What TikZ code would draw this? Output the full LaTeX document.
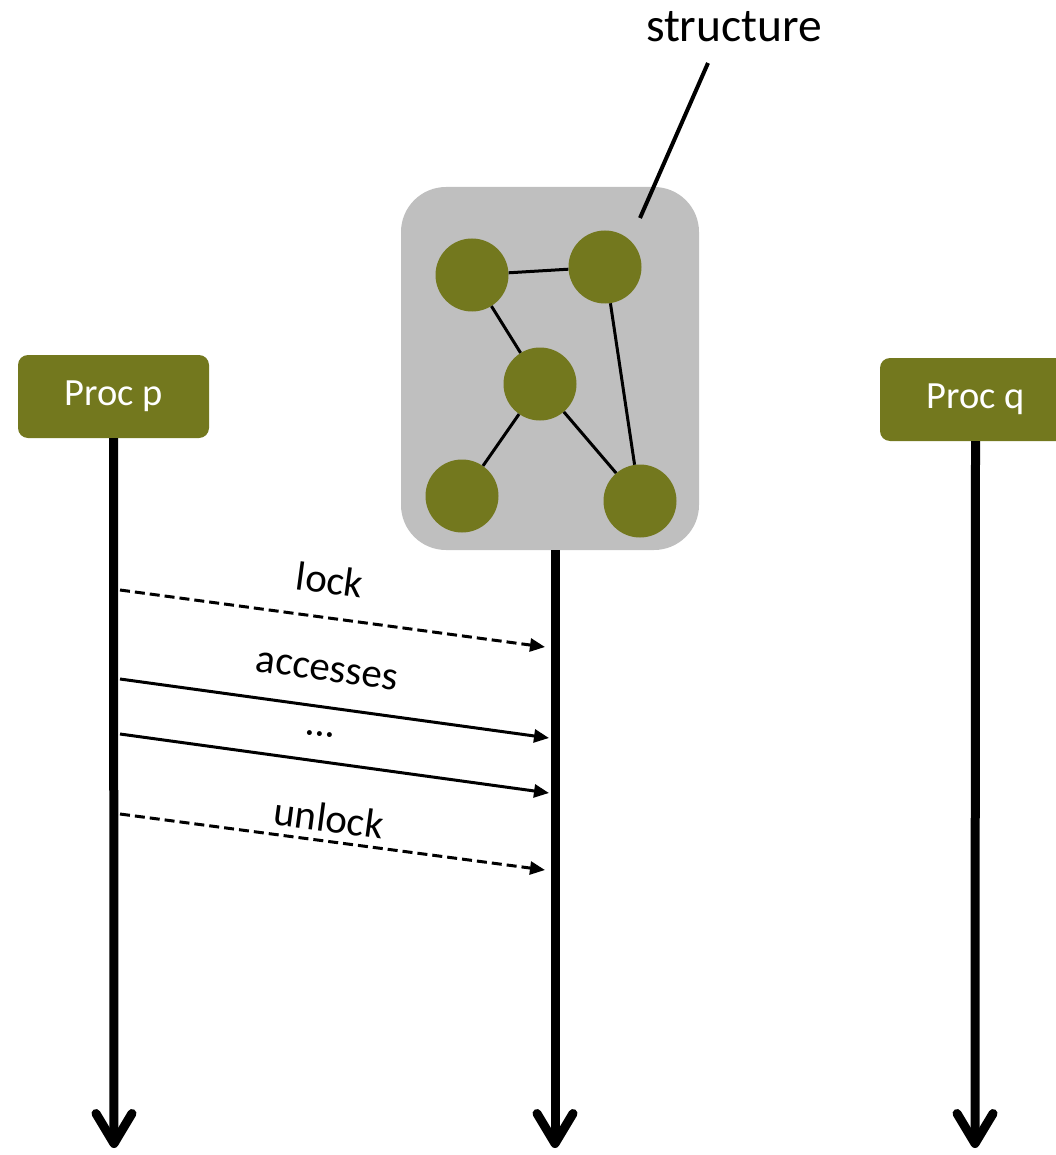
\documentclass[tikz,border=0pt]{standalone}
\usepackage{fontspec}
\setmainfont{Carlito}
\usetikzlibrary{arrows.meta}
\definecolor{olive}{RGB}{115,120,30}
\definecolor{structgray}{RGB}{191,191,191}
\tikzset{
  procbox/.style={fill=olive, rounded corners=10pt, minimum width=191pt, minimum height=83pt, text=white, font=\fontsize{38.5}{42}\selectfont, inner sep=0pt},
  blob/.style={circle, fill=olive, minimum size=73pt, inner sep=0pt},
  edge/.style={line width=3pt, black},
  lifeline/.style={line width=9pt, -{Straight Barb[length=30pt,width=36pt,line cap=round,line join=round]}},
  msg/.style={line width=3pt, -{Triangle[length=15pt,width=13pt]}},
  dmsg/.style={msg, dash pattern=on 10pt off 5pt},
  lbl/.style={font=\fontsize{41}{46}\selectfont, rotate=-7.7, inner sep=0pt},
}
\begin{document}
\begin{tikzpicture}[x=1pt,y=-1pt]
\useasboundingbox (0,0) rectangle (1056,1155);
% structure box
\node[fill=structgray, rounded corners=45pt, minimum width=298pt, minimum height=363pt, inner sep=0pt] (sbox) at (550,368.5) {};
\node[blob] (c1) at (472,275) {};
\node[blob] (c2) at (605,267) {};
\node[blob] (c3) at (540,384) {};
\node[blob] (c4) at (462,496) {};
\node[blob] (c5) at (640,501) {};
\draw[edge] (c1) -- (c2);
\draw[edge] (c1) -- (c3);
\draw[edge] (c3) -- (c4);
\draw[edge] (c3) -- (c5);
\draw[edge] (c2) -- (c5);
% structure label
\node[font=\fontsize{47.5}{52}\selectfont, inner sep=0pt] (slabel) at (734,27) {structure};
\coordinate (stip) at (640,218);
\draw[line width=4pt] (708,63) -- (stip);
% processes
\node[procbox] (pp) at (113.5,396.5) {Proc p};
\node[procbox] (pq) at (975.5,399.5) {Proc q};
\coordinate (pend) at (114,1148);
\coordinate (send) at (555,1148);
\coordinate (qend) at (975,1148);
\draw[lifeline] (pp.south) -- (pend);
\draw[lifeline] (sbox.south -| send) -- (send);
\draw[lifeline] (pq.south) -- (qend);
% messages
\coordinate (m1a) at (120,590); \coordinate (m1b) at (545,647);
\coordinate (m2a) at (120,679); \coordinate (m2b) at (549,738);
\coordinate (m3a) at (120,734); \coordinate (m3b) at (549,793);
\coordinate (m4a) at (120,814); \coordinate (m4b) at (545,870);
\draw[dmsg] (m1a) -- (m1b);
\draw[msg] (m2a) -- (m2b);
\draw[msg] (m3a) -- (m3b);
\draw[dmsg] (m4a) -- (m4b);
\node[lbl] (l1) at (330,580) {lock};
\node[lbl] (l2) at (327,671) {accesses};
\node[lbl] (l3) at (320,734) {...};
\node[lbl] (l4) at (329,818) {unlock};
\end{tikzpicture}
\end{document}
